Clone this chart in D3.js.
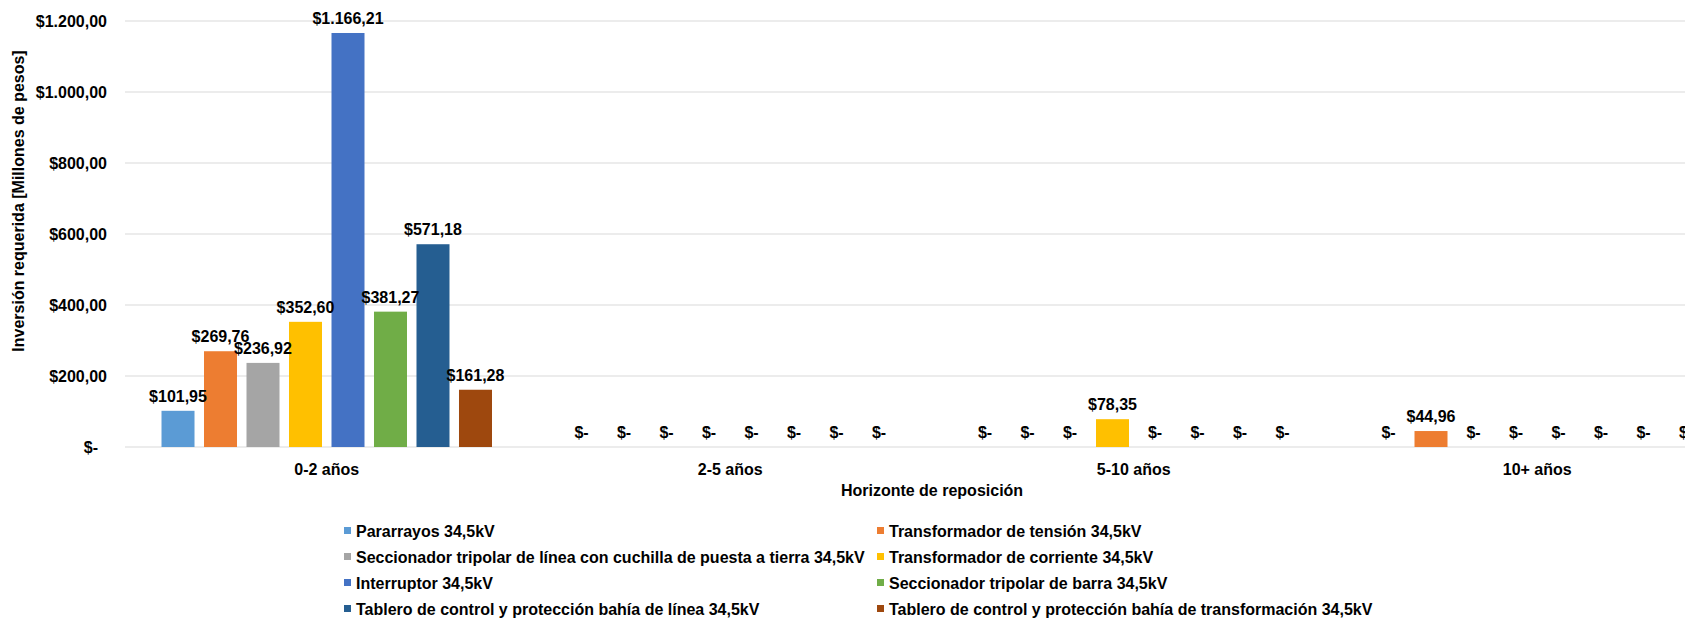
<!DOCTYPE html>
<html>
<head>
<meta charset="utf-8">
<script src="https://cdn.jsdelivr.net/npm/d3@7"></script>
<style>
  html, body { margin: 0; padding: 0; background: #fff; }
  svg { display: block; font-family: "Liberation Sans", Arial, sans-serif; font-weight: bold; }
</style>
</head>
<body>
<svg id="chart" width="1685" height="621"></svg>
<script>
// categories (horizonte de reposición)
const categories = ['0-2 años', '2-5 años', '5-10 años', '10+ años'];
// series names (equipos)
const seriesNames = [
  'Pararrayos 34,5kV',
  'Transformador de tensión 34,5kV',
  'Seccionador tripolar de línea con cuchilla de puesta a tierra 34,5kV',
  'Transformador de corriente 34,5kV',
  'Interruptor 34,5kV',
  'Seccionador tripolar de barra 34,5kV',
  'Tablero de control y protección bahía de línea 34,5kV',
  'Tablero de control y protección bahía de transformación 34,5kV'
];
const seriesColors = ['#5B9BD5', '#ED7D31', '#A5A5A5', '#FFC000', '#4472C4', '#70AD47', '#255E91', '#9E480E'];
// values per series, one per category
const pararrayos      = [101.95, 0, 0, 0];
const trafoTension    = [269.76, 0, 0, 44.96];
const seccLinea       = [236.92, 0, 0, 0];
const trafoCorriente  = [352.60, 0, 78.35, 0];
const interruptor     = [1166.21, 0, 0, 0];
const seccBarra       = [381.27, 0, 0, 0];
const tableroLinea    = [571.18, 0, 0, 0];
const tableroTrafo    = [161.28, 0, 0, 0];
const seriesValues = [pararrayos, trafoTension, seccLinea, trafoCorriente, interruptor, seccBarra, tableroLinea, tableroTrafo];
const yTicks = [0, 200, 400, 600, 800, 1000, 1200];

const locale = d3.formatLocale({ decimal: ',', thousands: '.', grouping: [3], currency: ['$', ''] });
const fmtMoney = v => v === 0 ? '$-' : locale.format('$,.2f')(v);

const svg = d3.select('#chart');
const m = { l: 125, r: 1739, t: 21, b: 447 };

const x0 = d3.scaleBand().domain(categories).range([m.l, m.r]);
const x1 = d3.scaleBand().domain(d3.range(seriesNames.length))
  .range([0, x0.bandwidth()]).paddingInner(0.2235).paddingOuter(0.859);
const y = d3.scaleLinear().domain([0, 1200]).range([m.b, m.t]);

// gridlines
svg.append('g').selectAll('line').data(yTicks).join('line')
  .attr('x1', m.l).attr('x2', m.r)
  .attr('y1', d => y(d)).attr('y2', d => y(d))
  .attr('stroke', '#d9d9d9').attr('stroke-width', 1);

// y tick labels
svg.append('g').selectAll('text').data(yTicks).join('text')
  .attr('x', d => d === 0 ? 98 : 107).attr('y', d => y(d)).attr('dy', '0.35em')
  .attr('text-anchor', 'end').attr('font-size', 16).attr('fill', '#000')
  .text(d => fmtMoney(d));

// bars
const groups = svg.append('g').selectAll('g').data(categories).join('g')
  .attr('transform', c => `translate(${x0(c)},0)`);

groups.each(function(c, ci) {
  const g = d3.select(this);
  const rows = seriesValues.map((vals, si) => ({ si, v: vals[ci] }));
  g.selectAll('rect').data(rows.filter(d => d.v > 0)).join('rect')
    .attr('x', d => x1(d.si)).attr('width', x1.bandwidth())
    .attr('y', d => y(d.v)).attr('height', d => y(0) - y(d.v))
    .attr('fill', d => seriesColors[d.si]);
  g.selectAll('text').data(rows).join('text')
    .attr('x', d => x1(d.si) + x1.bandwidth() / 2)
    .attr('y', d => y(d.v) - 9)
    .attr('text-anchor', 'middle').attr('font-size', 16).attr('fill', '#000')
    .text(d => fmtMoney(d.v));
});

// category labels
svg.append('g').selectAll('text').data(categories).join('text')
  .attr('x', c => x0(c) + x0.bandwidth() / 2).attr('y', 475)
  .attr('text-anchor', 'middle').attr('font-size', 16).attr('fill', '#000')
  .text(c => c);

// axis titles
svg.append('text')
  .attr('x', (m.l + m.r) / 2).attr('y', 496)
  .attr('text-anchor', 'middle').attr('font-size', 16).attr('fill', '#000')
  .text('Horizonte de reposición');

svg.append('text')
  .attr('transform', 'translate(24,201) rotate(-90)')
  .attr('text-anchor', 'middle').attr('font-size', 16).attr('fill', '#000')
  .text('Inversión requerida [Millones de pesos]');

// legend: two columns, four rows
const legendCols = [344, 877];
const legendRowY = 531, legendRowStep = 26;
const legend = svg.append('g').selectAll('g').data(seriesNames).join('g')
  .attr('transform', (d, i) => `translate(${legendCols[i % 2]},${legendRowY + Math.floor(i / 2) * legendRowStep})`);
legend.append('rect')
  .attr('x', 0).attr('y', -4).attr('width', 7).attr('height', 7)
  .attr('fill', (d, i) => seriesColors[i]);
legend.append('text')
  .attr('x', 12).attr('dy', '0.35em')
  .attr('font-size', 16).attr('fill', '#000')
  .text(d => d);
</script>
</body>
</html>
